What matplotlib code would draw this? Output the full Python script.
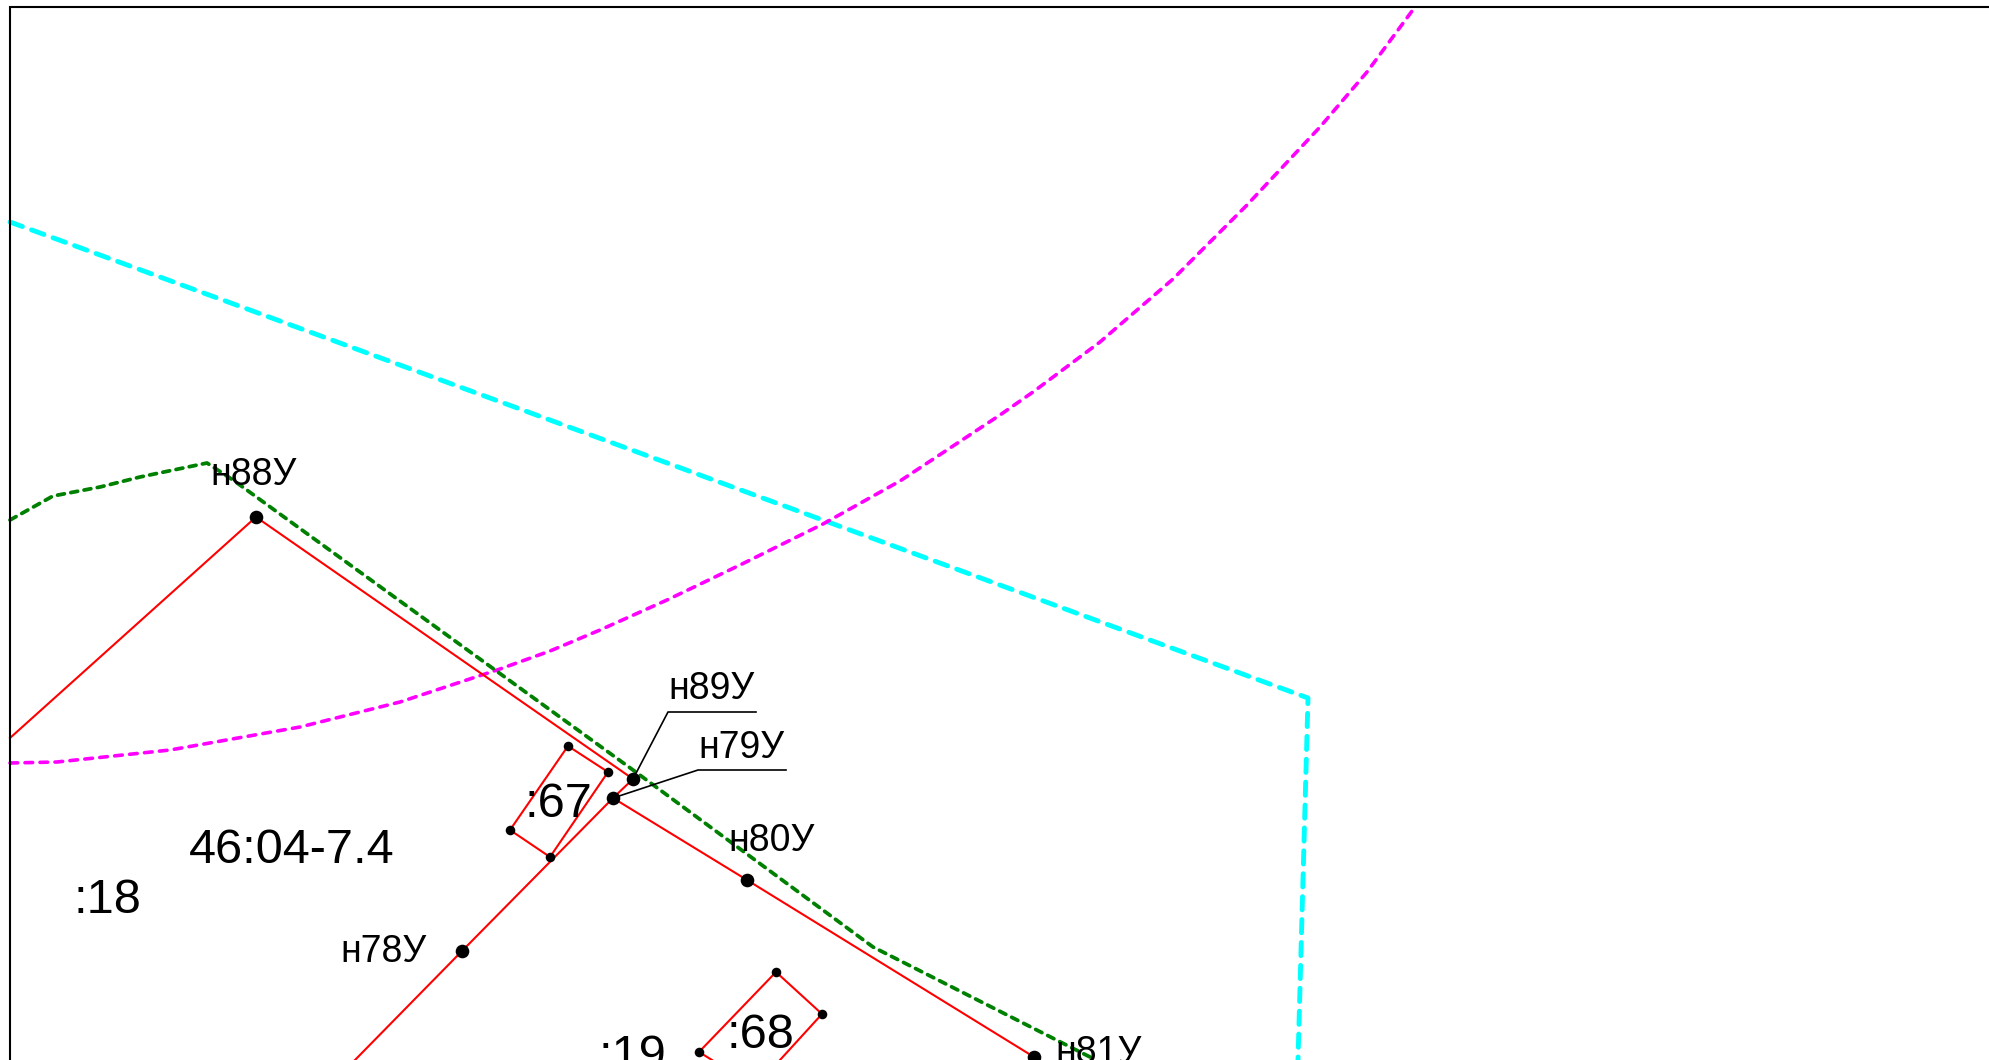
import matplotlib
matplotlib.use("Agg")
import matplotlib.pyplot as plt

plt.rcParams['font.family'] = ['Liberation Sans', 'DejaVu Sans']
plt.rcParams['lines.scale_dashes'] = False

# Map coordinates
frame_x = [10, 10, 1989]
frame_y = [1060, 7, 7]

cyan_x = [10, 1308, 1298]
cyan_y = [222, 698, 1060]

magenta_x = [10, 57, 170, 300, 400, 500, 550, 600, 667, 740, 823, 900, 950, 1000,
             1033, 1100, 1173, 1247, 1320, 1367, 1415]
magenta_y = [763, 762, 750, 727, 702, 669, 651, 630, 600, 565, 524, 481, 448, 415,
             392, 342, 279, 205, 127, 72, 7]

green_x = [10, 53, 100, 140, 207, 233, 633, 873, 1090]
green_y = [520, 496, 487, 477, 463, 480, 770, 947, 1057]

outer_x = [10, 256, 633, 613, 747, 1034, 1100]
outer_y = [738, 517, 779, 798, 880, 1057, 1098]
outer2_x = [613, 462, 355]
outer2_y = [798, 951, 1060]

p67_x = [568, 608, 550, 510, 568]
p67_y = [746, 772, 857, 830, 746]
p68_x = [776, 822, 780]
p68_y = [972, 1014, 1060]
p68b_x = [712, 699, 776]
p68b_y = [1060, 1052, 972]

big_x = [256, 633, 613, 747, 1034, 462]
big_y = [517, 779, 798, 880, 1057, 951]
small_x = [568, 608, 550, 510, 776, 822, 699]
small_y = [746, 772, 857, 830, 972, 1014, 1052]

lead1_x = [633, 668, 756]
lead1_y = [779, 712, 712]
lead2_x = [613, 698, 786]
lead2_y = [798, 770, 770]

small_labels = ['н88У', 'н89У', 'н79У', 'н80У', 'н78У', 'н81У']
small_lab_x = [254, 712, 741, 772, 384, 1099]
small_lab_y = [485, 699, 758, 851, 962, 1063]

large_labels = ['46:04-7.4', ':18', ':67', ':68', ':19']
large_lab_x = [292, 107, 558, 760, 632]
large_lab_y = [863, 913, 817, 1048, 1069]

fig = plt.figure(figsize=(19.89, 10.60), dpi=100, facecolor='white')
ax = fig.add_axes([0, 0, 1, 1])
ax.set_xlim(0, 1989)
ax.set_ylim(1060, 0)
ax.axis('off')

ax.plot(frame_x, frame_y, color='black', lw=1.5, solid_joinstyle='miter', zorder=6)
ax.plot(cyan_x, cyan_y, color='#00ffff', lw=3.5, dashes=(9.5, 7), dash_capstyle='round', zorder=2)
ax.plot(magenta_x, magenta_y, color='#ff00ff', lw=2.6, dashes=(5.5, 5.3), dash_capstyle='round', zorder=3)
ax.plot(green_x, green_y, color='#008000', lw=2.7, dashes=(5, 4.7), dash_capstyle='round', zorder=3)
for xs, ys in [(outer_x, outer_y), (outer2_x, outer2_y), (p67_x, p67_y),
               (p68_x, p68_y), (p68b_x, p68b_y)]:
    ax.plot(xs, ys, color='#ff0000', lw=1.5, zorder=3)
ax.plot(lead1_x, lead1_y, color='black', lw=1.2, zorder=4)
ax.plot(lead2_x, lead2_y, color='black', lw=1.2, zorder=4)
ax.plot(big_x, big_y, 'o', color='black', ms=9.8, mew=0, zorder=5)
ax.plot(small_x, small_y, 'o', color='black', ms=6.9, mew=0, zorder=5)

for s, x, y in zip(small_labels, small_lab_x, small_lab_y):
    ax.text(x, y, s, fontsize=27, ha='center', va='baseline', color='black', zorder=7)
for s, x, y in zip(large_labels, large_lab_x, large_lab_y):
    ax.text(x, y, s, fontsize=35, ha='center', va='baseline', color='black', zorder=7)

fig.savefig('out.png', dpi=100, facecolor='white')
